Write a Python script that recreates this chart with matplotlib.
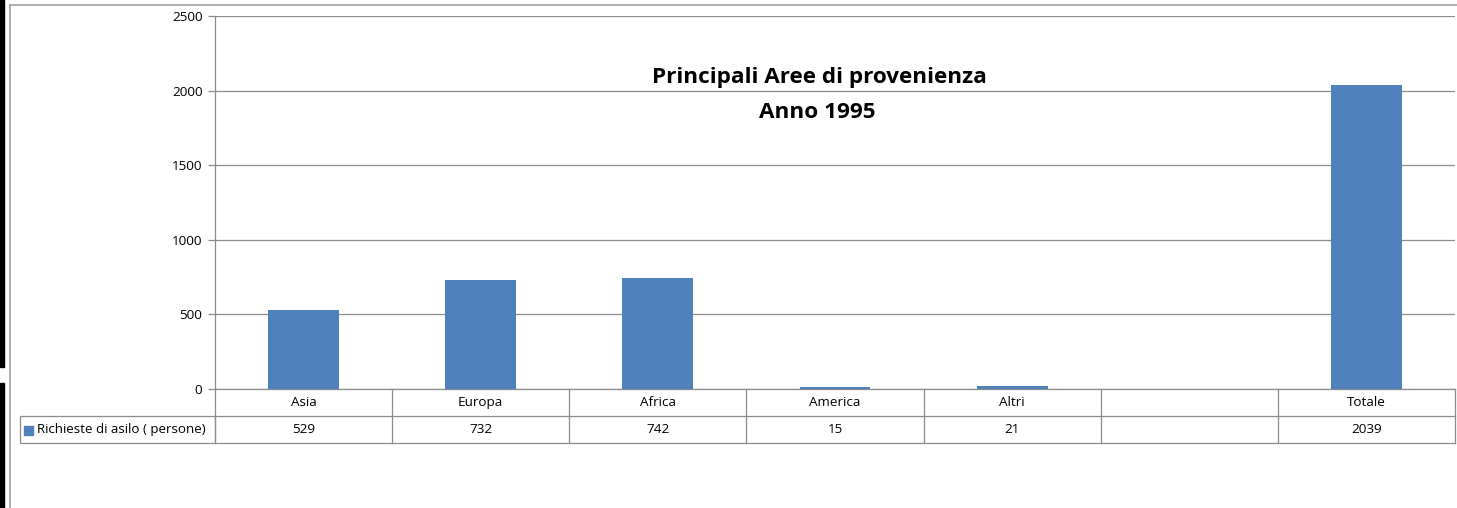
import matplotlib.pyplot as plt
from matplotlib.patches import Rectangle
from matplotlib.lines import Line2D
from matplotlib.transforms import blended_transform_factory

# data
categories = ["Asia", "Europa", "Africa", "America", "Altri", "", "Totale"]
values = [529, 732, 742, 15, 21, None, 2039]
series_name = "Richieste di asilo ( persone)"
yticks = [0, 500, 1000, 1500, 2000, 2500]

BAR_COLOR = "#4F81BD"
GRID_COLOR = "#8c8c8c"
TABLE_COLOR = "#8c8c8c"

plt.rcParams["font.family"] = ["Open Sans", "DejaVu Sans"]

W, H = 1457, 508
fig = plt.figure(figsize=(W / 100, H / 100), dpi=100)


def fx(px):
    return px / W


def fy(py):
    return 1 - py / H


# axes area in pixel coords
left, right, top, bottom = 215, 1455, 16, 389
ax = fig.add_axes([fx(left), fy(bottom), fx(right - left), fy(top) - fy(bottom)])

xs = list(range(len(categories)))
bx = [x for x, v in zip(xs, values) if v is not None]
bv = [v for v in values if v is not None]
ax.bar(bx, bv, width=0.4, color=BAR_COLOR, zorder=3)

ax.set_xlim(-0.5, len(categories) - 0.5)
ax.set_ylim(0, 2500)
ax.set_yticks(yticks)
ax.set_yticklabels([str(t) for t in yticks], fontsize=9.7)
ax.set_xticks([])
ax.yaxis.grid(True, color=GRID_COLOR, linewidth=0.9)
ax.set_axisbelow(True)
ax.tick_params(axis="y", length=5, color=GRID_COLOR, width=0.9, pad=4)
for s in ["top", "right", "bottom"]:
    ax.spines[s].set_visible(False)
ax.spines["left"].set_color(GRID_COLOR)
ax.spines["left"].set_linewidth(0.9)

# data table under the axis
row_h = 27 / (bottom - top)
trans = blended_transform_factory(ax.transData, ax.transAxes)
n = len(categories)
lw = 0.9
for k in range(3):
    yk = -k * row_h
    ax.add_line(Line2D([-0.5, n - 0.5], [yk, yk], transform=trans, color=TABLE_COLOR,
                       lw=lw, clip_on=False))
for i in range(n + 1):
    ax.add_line(Line2D([i - 0.5, i - 0.5], [0, -2 * row_h], transform=trans,
                       color=TABLE_COLOR, lw=lw, clip_on=False))
for i, (c, v) in enumerate(zip(categories, values)):
    ax.text(i, -0.5 * row_h, c, transform=trans, ha="center", va="center", fontsize=9.7)
    if v is not None:
        ax.text(i, -1.5 * row_h, str(v), transform=trans, ha="center", va="center",
                fontsize=9.7)

# legend cell at the left of the second row
y0, y1 = fy(443), fy(416)
fig.add_artist(Rectangle((fx(20), y0), fx(left - 20), y1 - y0, fill=False,
                         edgecolor=TABLE_COLOR, lw=lw, transform=fig.transFigure))
fig.add_artist(Rectangle((fx(24), fy(435)), fx(9), fy(426) - fy(435), color=BAR_COLOR,
                         transform=fig.transFigure))
fig.text(fx(37), (y0 + y1) / 2, series_name, ha="left", va="center", fontsize=9.6)

# title inside the plot area
fig.text(fx(819), fy(78), "Principali Aree di provenienza", ha="center", va="center",
         fontsize=16.2, fontweight="bold")
fig.text(fx(817), fy(113), "Anno 1995", ha="center", va="center",
         fontsize=16.2, fontweight="bold")

# outer chart frame and the dark bars at the left edge
fig.add_artist(Line2D([fx(10), 1], [fy(5), fy(5)], color="#a0a0a0", lw=1.2,
                      transform=fig.transFigure))
fig.add_artist(Line2D([fx(10), fx(10)], [fy(5), 0], color="#a0a0a0", lw=1.2,
                      transform=fig.transFigure))
fig.add_artist(Rectangle((0, fy(367)), fx(4), fy(0) - fy(367), color="black",
                         transform=fig.transFigure))
fig.add_artist(Rectangle((0, 0), fx(4), fy(383), color="black",
                         transform=fig.transFigure))

fig.savefig("out.png", dpi=100)
